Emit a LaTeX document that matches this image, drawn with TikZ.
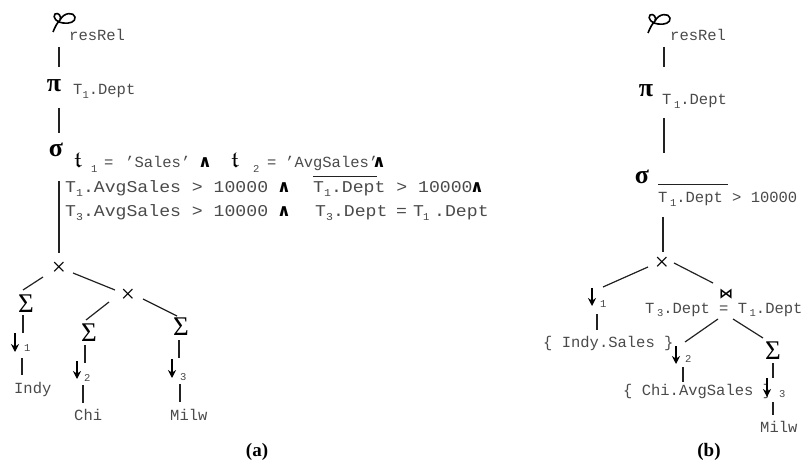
\documentclass[tikz,border=0pt]{standalone}
\usepackage{fontspec}
\usepackage{amssymb}
\usetikzlibrary{arrows.meta}
\setmainfont{Liberation Serif}
\setmonofont{Liberation Mono}
\newfontfamily\dejavu{DejaVu Sans}
\newfontfamily\widemono[FakeStretch=1.1]{Liberation Mono}
\definecolor{ink}{HTML}{222222}
\definecolor{txt}{HTML}{4A4A4A}
% lowered small index digit
\newcommand\lowsub[1]{\raisebox{-3.5pt}{\fontsize{10.5}{11}\selectfont #1}}
\tikzset{
  edge/.style={draw=ink, line width=1.2pt},
  lbl/.style={font=\fontsize{15.5}{16}\selectfont\ttfamily, text=txt, inner sep=0pt, anchor=base west},
  widelbl/.style={lbl, font=\fontsize{16.5}{17}\selectfont\widemono},
  idx/.style={font=\fontsize{10.5}{11}\selectfont\ttfamily, text=txt, inner sep=0pt, anchor=base west},
  greek/.style={inner sep=0pt, text=black, font=\fontsize{26}{26}\selectfont\bfseries},
  sumop/.style={inner sep=0pt, text=black, font=\fontsize{27}{27}\selectfont},
  crossop/.style={inner sep=0pt, text=black, font=\fontsize{25}{25}\selectfont},
  downarrow/.style={draw=black, line width=1.2pt, -{Stealth[length=8pt,width=8pt]}},
  andop/.style={inner sep=0pt, text=black, font=\fontsize{17}{17}\selectfont\dejavu\bfseries, anchor=base west},
  frakop/.style={inner sep=0pt, text=black, font=\fontsize{23}{23}\selectfont, anchor=base west},
  panelcap/.style={inner sep=0pt, text=black, font=\fontsize{19}{19}\selectfont\bfseries},
  rholoop/.pic={
    \draw[black, line width=1.6pt, line join=round]
      (1,20) .. controls (3,15) and (5,11) .. (8,8)
      .. controls (10,4) and (6,0) .. (3,2)
      .. controls (0,5) and (5,11) .. (11,11)
      .. controls (17,12) and (24,10) .. (23,5)
      .. controls (22,0) and (12,0) .. (8,8);
  }
}
\begin{document}
\begin{tikzpicture}[x=1pt,y=-1pt]
\useasboundingbox (0,0) rectangle (809,465);

%% ---------------- (a) ----------------
\pic at (52,12) {rholoop};
\node[lbl] (resA) at (69,41) {resRel};
\coordinate (a1t) at (59,47); \coordinate (a1b) at (59,67);
\draw[edge] (a1t) -- (a1b);
\node[greek] (piA) at (54,86) {π};
\node[lbl] (deptA) at (73,95) {T\lowsub{1}.Dept};
\coordinate (a2t) at (59,108); \coordinate (a2b) at (59,133);
\draw[edge] (a2t) -- (a2b);
\node[greek] (sigA) at (56,150) {σ};

% selection condition, line 1
\node[frakop] (tA1) at (74,168) {$\mathfrak{t}$};
\node[idx] (tA1i) at (91,173) {1};
\node[lbl] (eqA1) at (104,168) {=};
\node[lbl] (salesA) at (125,168) {’Sales’};
\node[andop] (andA1) at (198,168) {∧};
\node[frakop] (tA2) at (231,168) {$\mathfrak{t}$};
\node[idx] (tA2i) at (253,173) {2};
\node[lbl] (eqA2) at (267,168) {=};
\node[lbl] (avgA) at (285,168) {’AvgSales’};
\node[andop] (andA2) at (372,168) {∧};
% line 2
\node[widelbl] (c2a) at (65,193) {T\lowsub{1}.AvgSales > 10000};
\node[andop] (andA3) at (277,193) {∧};
\node[widelbl] (c2d) at (313,193) {T\lowsub{1}.Dept > 10000};
\node[andop] (andA4) at (470,193) {∧};
\coordinate (olA1) at (313,177); \coordinate (olA2) at (377,177);
\draw[ink, line width=1pt] (olA1) -- (olA2);
% line 3
\node[widelbl] (c3a) at (65,217) {T\lowsub{3}.AvgSales > 10000};
\node[andop] (andA5) at (277,217) {∧};
\node[widelbl] (c3d) at (315,217) {T\lowsub{3}.Dept};
\node[widelbl] (c3e) at (396,217) {=};
\node[widelbl] (c3f) at (413,217) {T};
\node[idx] (c3g) at (423,221) {1};
\node[widelbl] (c3h) at (434,217) {.Dept};

\coordinate (a3t) at (59,181); \coordinate (a3b) at (59,253);
\draw[edge] (a3t) -- (a3b);
\node[crossop] (xA) at (59,269) {×};
\coordinate (a4t) at (43,277); \coordinate (a4b) at (23,290);
\draw[edge] (a4t) -- (a4b);
\coordinate (a5t) at (73,273); \coordinate (a5b) at (115,290);
\draw[edge] (a5t) -- (a5b);
\node[crossop] (x2A) at (128,296) {×};
\coordinate (a6t) at (109,302); \coordinate (a6b) at (86,320);
\draw[edge] (a6t) -- (a6b);
\coordinate (a7t) at (143,299); \coordinate (a7b) at (177,316);
\draw[edge] (a7t) -- (a7b);

% Indy branch
\node[sumop] (s1A) at (26,304) {Σ};
\coordinate (a8t) at (23,315); \coordinate (a8b) at (23,333);
\draw[edge] (a8t) -- (a8b);
\coordinate (d1At) at (15,333); \coordinate (d1Ab) at (15,352);
\draw[downarrow] (d1At) -- (d1Ab);
\node[idx] (d1Ai) at (24,351) {1};
\coordinate (a9t) at (22,358); \coordinate (a9b) at (22,375);
\draw[edge] (a9t) -- (a9b);
\node[lbl] (indyA) at (14,393) {Indy};
% Chi branch
\node[sumop] (s2A) at (89,333) {Σ};
\coordinate (a10t) at (85,345); \coordinate (a10b) at (85,363);
\draw[edge] (a10t) -- (a10b);
\coordinate (d2At) at (77,361); \coordinate (d2Ab) at (77,379);
\draw[downarrow] (d2At) -- (d2Ab);
\node[idx] (d2Ai) at (84,381) {2};
\coordinate (a11t) at (83,385); \coordinate (a11b) at (83,403);
\draw[edge] (a11t) -- (a11b);
\node[lbl] (chiA) at (74,420) {Chi};
% Milw branch
\node[sumop] (s3A) at (181,327) {Σ};
\coordinate (a12t) at (179,340); \coordinate (a12b) at (179,358);
\draw[edge] (a12t) -- (a12b);
\coordinate (d3At) at (172,359); \coordinate (d3Ab) at (172,378);
\draw[downarrow] (d3At) -- (d3Ab);
\node[idx] (d3Ai) at (180,380) {3};
\coordinate (a13t) at (180,384); \coordinate (a13b) at (180,402);
\draw[edge] (a13t) -- (a13b);
\node[lbl] (milwA) at (170,420) {Milw};

\node[panelcap] (capA) at (257,452) {(a)};

%% ---------------- (b) ----------------
\pic at (647,13) {rholoop};
\node[lbl] (resB) at (670,41) {resRel};
\coordinate (b1t) at (664,47); \coordinate (b1b) at (664,67);
\draw[edge] (b1t) -- (b1b);
\node[greek] (piB) at (646,91) {π};
\node[lbl] (deptB) at (662,105) {T\,\lowsub{1}.Dept};
\coordinate (b2t) at (664,118); \coordinate (b2b) at (664,153);
\draw[edge] (b2t) -- (b2b);
\node[greek] (sigB) at (642,177) {σ};
\coordinate (olB1) at (658,185); \coordinate (olB2) at (728,185);
\draw[ink, line width=1pt] (olB1) -- (olB2);
\node[lbl] (condB) at (658,203) {T\,\lowsub{1}.Dept > 10000};
\coordinate (b3t) at (663,217); \coordinate (b3b) at (663,252);
\draw[edge] (b3t) -- (b3b);
\node[crossop] (xB) at (662,264) {×};
\coordinate (b4t) at (648,267); \coordinate (b4b) at (603,287);
\draw[edge] (b4t) -- (b4b);
\coordinate (b5t) at (674,263); \coordinate (b5b) at (713,283);
\draw[edge] (b5t) -- (b5b);

% Indy branch
\coordinate (d1Bt) at (592,288); \coordinate (d1Bb) at (592,306);
\draw[downarrow] (d1Bt) -- (d1Bb);
\node[idx] (d1Bi) at (600,307) {1};
\coordinate (b6t) at (597,314); \coordinate (b6b) at (597,330);
\draw[edge] (b6t) -- (b6b);
\node[lbl] (indyB) at (543,347) {\{ Indy.Sales \}};

% join
\node[inner sep=0pt, font=\fontsize{14}{14}\selectfont\dejavu\bfseries] (joinB) at (726,294) {⋈};
\node[lbl] (joinCond) at (645,313) {T\,\lowsub{3}.Dept = T\,\lowsub{1}.Dept};
\coordinate (b7t) at (718,319); \coordinate (b7b) at (685,342);
\draw[edge] (b7t) -- (b7b);
\coordinate (b8t) at (733,319); \coordinate (b8b) at (763,338);
\draw[edge] (b8t) -- (b8b);

% Chi branch
\coordinate (d2Bt) at (676,346); \coordinate (d2Bb) at (676,364);
\draw[downarrow] (d2Bt) -- (d2Bb);
\node[idx] (d2Bi) at (685,362) {2};
\coordinate (b9t) at (683,367); \coordinate (b9b) at (683,382);
\draw[edge] (b9t) -- (b9b);
\node[lbl] (chiB) at (623,395) {\{ Chi.AvgSales \}};

% Milw branch
\node[sumop] (s3B) at (773,351) {Σ};
\coordinate (b10t) at (773,363); \coordinate (b10b) at (773,378);
\draw[edge] (b10t) -- (b10b);
\coordinate (d3Bt) at (767,378); \coordinate (d3Bb) at (767,397);
\draw[downarrow] (d3Bt) -- (d3Bb);
\node[idx] (d3Bi) at (779,397) {3};
\coordinate (b11t) at (773,402); \coordinate (b11b) at (773,415);
\draw[edge] (b11t) -- (b11b);
\node[lbl] (milwB) at (760,432) {Milw};

\node[panelcap] (capB) at (709,452) {(b)};
\end{tikzpicture}
\end{document}
